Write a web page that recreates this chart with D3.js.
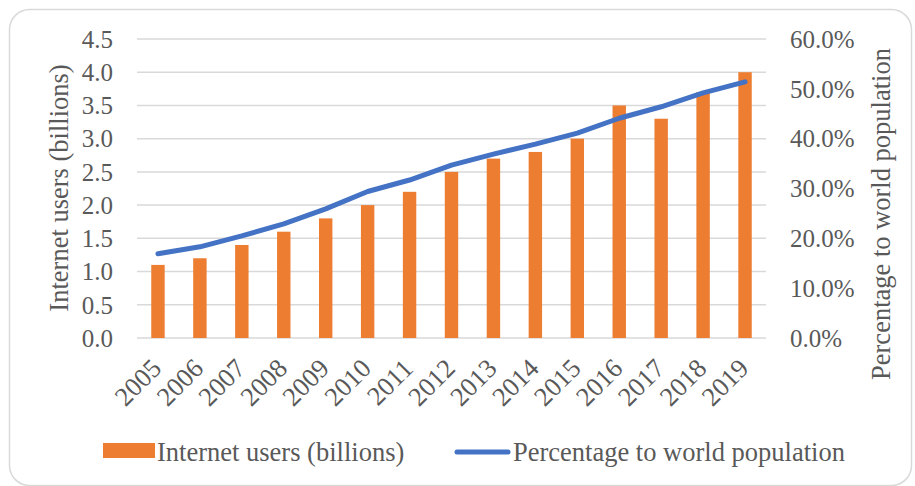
<!DOCTYPE html>
<html>
<head>
<meta charset="utf-8">
<script src="https://cdn.jsdelivr.net/npm/d3@7"></script>
<style>
  body { margin: 0; background: #fff; }
  text { font-family: "Liberation Serif", "Times New Roman", serif; fill: #595959; }
</style>
</head>
<body>
<svg id="chart" width="915" height="486"></svg>
<script>
// data
let years = ["2005", "2006", "2007", "2008", "2009", "2010", "2011", "2012",
             "2013", "2014", "2015", "2016", "2017", "2018", "2019"];
let users = [1.1, 1.2, 1.4, 1.6, 1.8, 2.0, 2.2, 2.5, 2.7, 2.8, 3.0, 3.5, 3.3, 3.7, 4.0];
let pct = [16.9, 18.3, 20.5, 22.9, 25.9, 29.4, 31.7, 34.7, 36.9, 38.9, 41.1, 44.1, 46.4, 49.2, 51.4];
let left_ticks = [0, 0.5, 1, 1.5, 2, 2.5, 3, 3.5, 4, 4.5];
let right_ticks = [0, 10, 20, 30, 40, 50, 60];

let orange = "#ED7D31";
let blue = "#4472C4";
let grid = "#d9d9d9";

let svg = d3.select("#chart");

// chart frame
svg.append("rect")
    .attr("x", 9.5).attr("y", 9.5)
    .attr("width", 902).attr("height", 476)
    .attr("rx", 20).attr("ry", 20)
    .attr("fill", "#fff")
    .attr("stroke", grid)
    .attr("stroke-width", 1.5);

let plot = { left: 137, right: 766, top: 39, bottom: 338 };

let x = d3.scaleBand()
    .domain(years)
    .range([plot.left, plot.right]);

let y = d3.scaleLinear()
    .domain([0, 4.5])
    .range([plot.bottom, plot.top]);

let y2 = d3.scaleLinear()
    .domain([0, 60])
    .range([plot.bottom, plot.top]);

// gridlines
svg.append("g")
    .selectAll("line")
    .data(left_ticks)
    .enter().append("line")
        .attr("x1", plot.left)
        .attr("x2", plot.right)
        .attr("y1", d => y(d))
        .attr("y2", d => y(d))
        .attr("stroke", grid)
        .attr("stroke-width", 1.5);

// left axis labels
svg.append("g")
    .selectAll("text")
    .data(left_ticks)
    .enter().append("text")
        .attr("x", 113)
        .attr("y", d => y(d))
        .attr("dy", "0.35em")
        .attr("text-anchor", "end")
        .attr("font-size", 25)
        .text(d => d.toFixed(1));

// right axis labels
svg.append("g")
    .selectAll("text")
    .data(right_ticks)
    .enter().append("text")
        .attr("x", 790)
        .attr("y", d => y2(d))
        .attr("dy", "0.35em")
        .attr("text-anchor", "start")
        .attr("font-size", 25)
        .text(d => d.toFixed(1) + "%");

// bars
let bar_w = x.bandwidth() * 0.32;
svg.append("g")
    .selectAll("rect")
    .data(years)
    .enter().append("rect")
        .attr("x", d => x(d) + x.bandwidth() / 2 - bar_w / 2)
        .attr("y", (d, i) => y(users[i]))
        .attr("width", bar_w)
        .attr("height", (d, i) => y(0) - y(users[i]))
        .attr("fill", orange);

// percentage line
let line = d3.line()
    .x((d, i) => x(years[i]) + x.bandwidth() / 2)
    .y(d => y2(d));

svg.append("path")
    .datum(pct)
    .attr("d", line)
    .attr("fill", "none")
    .attr("stroke", blue)
    .attr("stroke-width", 5)
    .attr("stroke-linecap", "round")
    .attr("stroke-linejoin", "round");

// x labels
svg.append("g")
    .selectAll("text")
    .data(years)
    .enter().append("text")
        .attr("text-anchor", "end")
        .attr("font-size", 26.5)
        .attr("transform", d => `translate(${x(d) + x.bandwidth() / 2 + 5}, ${plot.bottom + 32}) rotate(-45)`)
        .text(d => d);

// axis titles
svg.append("text")
    .attr("transform", "translate(68, 188) rotate(-90)")
    .attr("text-anchor", "middle")
    .attr("font-size", 26.5)
    .text("Internet users (billions)");

svg.append("text")
    .attr("transform", "translate(890, 214) rotate(-90)")
    .attr("text-anchor", "middle")
    .attr("font-size", 26.5)
    .text("Percentage to world population");

// legend
let legend = svg.append("g");
legend.append("rect")
    .attr("x", 103).attr("y", 443)
    .attr("width", 52).attr("height", 15)
    .attr("fill", orange);
legend.append("text")
    .attr("x", 157).attr("y", 461)
    .attr("font-size", 26.5)
    .text("Internet users (billions)");
legend.append("line")
    .attr("x1", 457).attr("x2", 508)
    .attr("y1", 452).attr("y2", 452)
    .attr("stroke", blue)
    .attr("stroke-width", 5)
    .attr("stroke-linecap", "round");
legend.append("text")
    .attr("x", 513).attr("y", 461)
    .attr("font-size", 26.5)
    .text("Percentage to world population");
</script>
</body>
</html>
